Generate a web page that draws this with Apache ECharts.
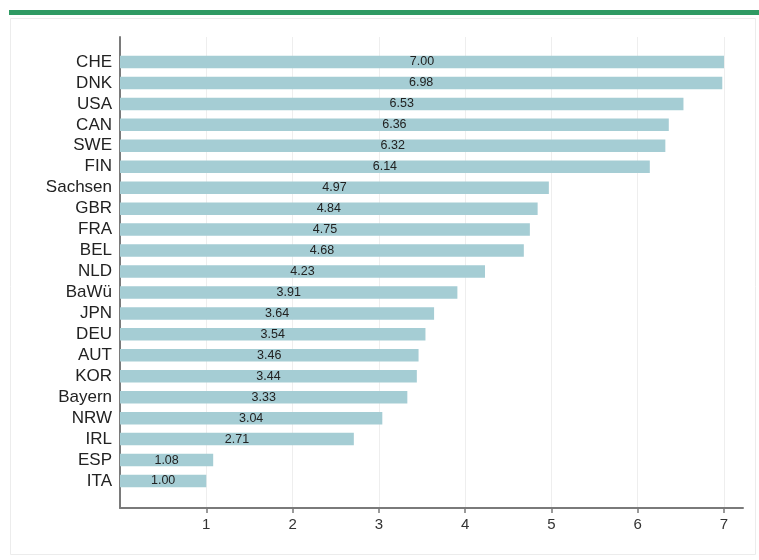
<!DOCTYPE html>
<html>
<head>
<meta charset="utf-8">
<script src="https://cdn.jsdelivr.net/npm/echarts@6/dist/echarts.min.js"></script>
<style>
html,body{margin:0;padding:0;background:#fff;}
#c{width:759px;height:560px;}
</style>
</head>
<body>
<div id="c"></div>
<script>
const categories = ['CHE','DNK','USA','CAN','SWE','FIN','Sachsen','GBR','FRA','BEL','NLD','BaWü','JPN','DEU','AUT','KOR','Bayern','NRW','IRL','ESP','ITA'];
const values = [7.00,6.98,6.53,6.36,6.32,6.14,4.97,4.84,4.75,4.68,4.23,3.91,3.64,3.54,3.46,3.44,3.33,3.04,2.71,1.08,1.00];
const xTicks = [1,2,3,4,5,6,7];
const xMin = 0, xMax = 7.22;

const chart = echarts.init(document.getElementById('c'), null, {renderer:'canvas'});
const font = 'Liberation Sans, Helvetica, Arial, sans-serif';
chart.setOption({
  animation:false,
  backgroundColor:'#ffffff',
  graphic:[
    {type:'rect', shape:{x:9,y:10,width:750,height:5}, style:{fill:'#2f9a63'}, z:10},
    {type:'rect', shape:{x:10.5,y:18.5,width:745,height:536}, style:{fill:'none',stroke:'#ececec',lineWidth:1}, z:-1}
  ],
  grid:[
    {left:120, right:16, top:37, bottom:52},
    {left:120, right:16, top:51.5, bottom:68.5}
  ],
  xAxis:[
    {gridIndex:0, type:'value', min:xMin, max:xMax, interval:1,
     axisLine:{show:true, lineStyle:{color:'#7a7a7a', width:2}},
     axisTick:{show:true, customValues:xTicks, length:5, lineStyle:{color:'#7a7a7a', width:1.5}},
     axisLabel:{customValues:xTicks, color:'#333', fontSize:15, fontFamily:font, margin:9},
     splitLine:{show:true, lineStyle:{color:'#eeeeee', width:1}}},
    {gridIndex:1, type:'value', min:xMin, max:xMax, show:false, splitLine:{show:false}}
  ],
  yAxis:[
    {gridIndex:0, type:'value', min:0, max:1,
     axisLine:{show:true, lineStyle:{color:'#7a7a7a', width:2}},
     axisTick:{show:false}, axisLabel:{show:false}, splitLine:{show:false}},
    {gridIndex:1, type:'category', data:categories, inverse:true,
     axisLine:{show:false}, axisTick:{show:false},
     axisLabel:{interval:0, hideOverlap:false, color:'#222', fontSize:17, lineHeight:18, fontFamily:font, margin:8},
     splitLine:{show:false}}
  ],
  series:[{
    type:'bar', xAxisIndex:1, yAxisIndex:1,
    data:values, barWidth:12.5,
    itemStyle:{color:'#a5cdd4'},
    label:{show:true, position:'inside', color:'#222', fontSize:12.5, fontFamily:font,
      formatter:p=>p.value.toFixed(2)}
  }]
});
</script>
</body>
</html>
